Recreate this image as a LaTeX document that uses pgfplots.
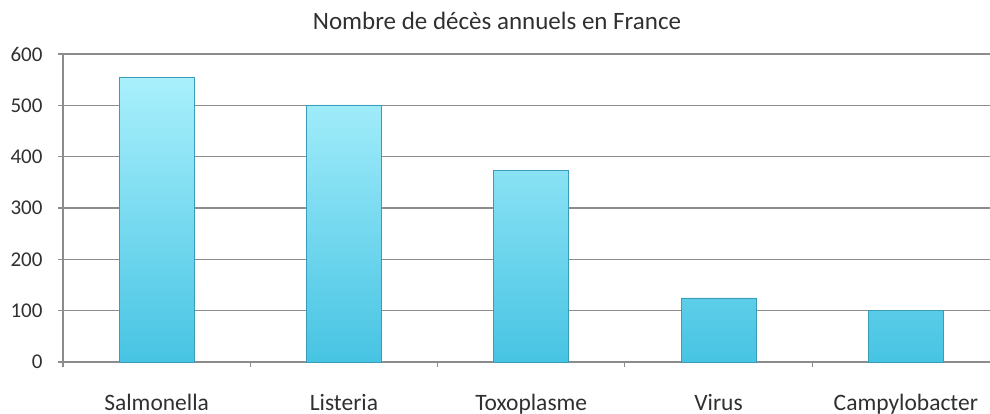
\documentclass[border=0pt]{standalone}
\usepackage{fontspec}
\setmainfont{Carlito}
\usepackage{pgfplots}
\pgfplotsset{compat=1.18}

\definecolor{gridgray}{HTML}{8C8C8C}
\definecolor{txt}{HTML}{303030}
\definecolor{bartop}{HTML}{A9F0FC}
\definecolor{barbot}{HTML}{47C4E3}
\definecolor{baredge}{HTML}{3A9CB8}

\begin{document}
\begin{tikzpicture}
\useasboundingbox (-63bp,-52bp) rectangle (927bp,362bp);
\begin{axis}[
    at={(0,0)}, anchor=south west,
    scale only axis,
    width=936.5bp, height=308bp,
    xmin=-0.5, xmax=4.5,
    ymin=0, ymax=600,
    ytick={0,100,...,600},
    xtick={-0.5,0.5,...,4.5},
    x tick label as interval,
    xticklabels={Salmonella, Listeria, Toxoplasme, Virus, Campylobacter},
    axis x line*=bottom, axis y line*=left,
    axis line style={gridgray, line width=1.1bp, -},
    ymajorgrids,
    grid style={gridgray, line width=1.1bp},
    major tick style={gridgray, line width=1.1bp},
    major tick length=5bp,
    tick align=outside,
    tick label style={txt},
    /pgf/number format/assume math mode=true,
    xticklabel style={font=\fontsize{23.5bp}{28bp}\selectfont, anchor=base, yshift=-43bp},
    yticklabel style={font=\fontsize{21bp}{25bp}\selectfont, anchor=east, xshift=-12bp},
    title={Nombre de décès annuels en France},
    title style={font=\fontsize{25bp}{30bp}\selectfont, at={(0.4634,1)}, anchor=base, yshift=19bp, txt},
    clip=false,
]
\addplot[ybar, bar width=75bp, draw=baredge, line width=0.6bp,
    top color=bartop, bottom color=barbot]
    coordinates {(0,554) (1,501) (2,374) (3,125) (4,101)};
\end{axis}
\end{tikzpicture}
\end{document}
